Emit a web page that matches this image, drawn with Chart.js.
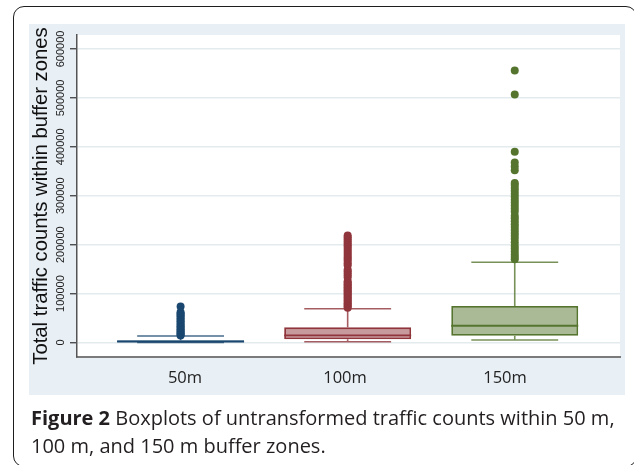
<!DOCTYPE html>
<html><head><meta charset="utf-8">
<script src="https://cdn.jsdelivr.net/npm/chart.js@4/dist/chart.umd.min.js"></script>
<style>
html,body{margin:0;padding:0;background:#fff;}
#wrap{position:relative;width:634px;height:465px;overflow:hidden;}
#frame{position:absolute;left:13px;top:6px;width:624px;height:461px;box-sizing:border-box;border:1.5px solid #1e1e1e;border-radius:11px;}
canvas{position:absolute;left:0;top:0;}
#cap{position:absolute;left:31px;top:404px;font-family:'Open Sans';font-size:20px;line-height:28px;color:#231f20;white-space:nowrap;font-weight:500;}
#cap b{font-weight:700;}
</style></head><body>
<div id="wrap"><div id="frame"></div><canvas id="c" width="634" height="465"></canvas>
<div id="cap"><b>Figure 2</b> Boxplots of untransformed traffic counts within 50 m,<br>100 m, and 150 m buffer zones.</div></div>
<script>
const categories = ['50m', '100m', '150m'];
const q1 = [800, 6500, 13900];
const median = [2000, 14700, 34300];
const q3 = [4500, 31000, 74600];
const whiskerLow = [100, 1500, 5100];
const whiskerHigh = [13300, 69100, 164000];
const outliers50 = [14500, 16500, 19000, 21500, 24000, 27000, 30000, 33500, 36500, 40000, 43000, 46000, 49500, 53000, 56000, 59000, 62000, 73500];
const outliers100 = [71000, 74000, 77000, 80000, 83000, 86000, 89000, 92000, 95000, 98000, 101000, 104000, 107000, 110000, 113000, 116000, 119000, 122000, 125000, 133000, 137000, 141000, 145000, 149000, 158000, 162000, 167000, 171000, 175000, 179000, 183000, 187000, 191000, 195000, 199000, 203000, 207000, 211000, 215000, 219000];
const outliers150 = [170000, 175000, 180000, 186000, 192000, 198000, 205000, 212000, 218000, 224000, 230000, 236000, 242000, 248000, 254000, 259000, 268000, 274000, 280000, 286000, 292000, 298000, 304000, 310000, 316000, 322000, 326000, 352000, 360000, 368000, 390000, 507000, 556000];
const outliers = [outliers50, outliers100, outliers150];
const yTicks = [0, 100000, 200000, 300000, 400000, 500000, 600000];
const yTickLabels = ['0', '100000', '200000', '300000', '400000', '500000', '600000'];

const colors = ['#1a476f', '#90353b', '#55752f'];
const fills = ['rgba(26,71,111,0.5)', 'rgba(144,53,59,0.5)', 'rgba(85,117,47,0.5)'];
const capColors = ['rgba(26,71,111,0.8)', 'rgba(144,53,59,0.8)', 'rgba(85,117,47,0.8)'];
const BOX_HALF = 0.38, CAP_HALF = 0.26;

const datasets = [];
datasets.push({
  type: 'bar', xAxisID: 'x', yAxisID: 'y', order: 3,
  data: categories.map((c, i) => ({x: i + 1, y: [q1[i], q3[i]]})),
  backgroundColor: fills, borderColor: colors, borderWidth: 1.8, borderSkipped: false,
  barPercentage: 0.76, categoryPercentage: 1
});
categories.forEach((c, i) => {
  const cx = i + 1;
  datasets.push({
    type: 'line', xAxisID: 'x', yAxisID: 'y', order: 2, spanGaps: false,
    data: [
      {x: cx - CAP_HALF, y: whiskerLow[i]}, {x: cx + CAP_HALF, y: whiskerLow[i]}, {x: cx, y: null},
      {x: cx, y: whiskerLow[i]}, {x: cx, y: q1[i]}, {x: cx, y: null},
      {x: cx, y: q3[i]}, {x: cx, y: whiskerHigh[i]}, {x: cx, y: null},
      {x: cx - CAP_HALF, y: whiskerHigh[i]}, {x: cx + CAP_HALF, y: whiskerHigh[i]}
    ],
    borderColor: capColors[i], borderWidth: 1.6, pointRadius: 0, fill: false, tension: 0
  });
  datasets.push({
    type: 'line', xAxisID: 'x', yAxisID: 'y', order: 1,
    data: [{x: cx - BOX_HALF, y: median[i]}, {x: cx + BOX_HALF, y: median[i]}],
    borderColor: colors[i], borderWidth: 1.8, pointRadius: 0, fill: false
  });
  datasets.push({
    type: 'scatter', xAxisID: 'x', yAxisID: 'y', order: 0,
    data: outliers[i].map(v => ({x: cx, y: v})),
    pointRadius: 4, pointBackgroundColor: colors[i], pointBorderColor: colors[i], pointBorderWidth: 0, showLine: false
  });
});

const bgPlugin = {
  id: 'bg',
  beforeDraw(chart) {
    const ctx = chart.ctx, a = chart.chartArea;
    ctx.save();
    ctx.fillStyle = '#e8eff5';
    ctx.fillRect(29, 24, 596, 371);
    ctx.fillStyle = '#ffffff';
    ctx.fillRect(a.left, a.top, a.right - a.left, a.bottom - a.top);
    ctx.restore();
  }
};
const yLabelPlugin = {
  id: 'ylabels',
  afterDraw(chart) {
    const ctx = chart.ctx, s = chart.scales.y;
    ctx.save();
    ctx.fillStyle = '#222';
    ctx.font = '11px "Liberation Sans", Arial, sans-serif';
    ctx.textAlign = 'center';
    ctx.textBaseline = 'middle';
    yTicks.forEach((v, k) => {
      const py = s.getPixelForValue(v);
      ctx.save();
      ctx.translate(61, py);
      ctx.rotate(-Math.PI / 2);
      ctx.fillText(yTickLabels[k], 0, 0);
      ctx.restore();
    });
    ctx.restore();
  }
};

new Chart(document.getElementById('c'), {
  type: 'bar',
  data: {datasets},
  plugins: [bgPlugin, yLabelPlugin],
  options: {
    responsive: false, maintainAspectRatio: false, animation: false, devicePixelRatio: 1,
    layout: {padding: {left: 29, top: 35, right: 14, bottom: 70}},
    plugins: {legend: {display: false}, tooltip: {enabled: false}},
    scales: {
      x: {
        type: 'linear', min: 0.38, max: 3.63, display: false, offset: false, grid: {offset: false},
        afterBuildTicks: s => { s.ticks = categories.map((c, i) => ({value: i + 1})); }
      },
      xl: {
        type: 'linear', position: 'bottom', min: 0.325, max: 3.71875, offset: false,
        afterBuildTicks: s => { s.ticks = categories.map((c, i) => ({value: i + 1})); },
        ticks: {callback: v => categories[Math.round(v) - 1], font: {family: 'Open Sans', size: 16.5}, color: '#222', padding: 11, maxRotation: 0, autoSkip: false},
        grid: {display: false, drawTicks: false, offset: false},
        border: {display: true, color: '#7b7b7b', width: 2},
        afterFit: s => { s.height = 38; }
      },
      y: {
        type: 'linear', position: 'left', min: -29600, max: 628600,
        afterBuildTicks: s => { s.ticks = yTicks.map(v => ({value: v})); },
        ticks: {display: false},
        grid: {color: '#e4ebee', lineWidth: 1.5, tickLength: 7, tickColor: '#333', tickWidth: 1.2, drawTicks: true},
        border: {display: true, color: '#555', width: 1.5},
        title: {display: true, text: 'Total traffic counts within buffer zones', font: {family: 'Liberation Sans', size: 20.3}, color: '#111', padding: 0},
        afterFit: s => { s.width = 48; }
      }
    }
  }
});
</script>
</body></html>
